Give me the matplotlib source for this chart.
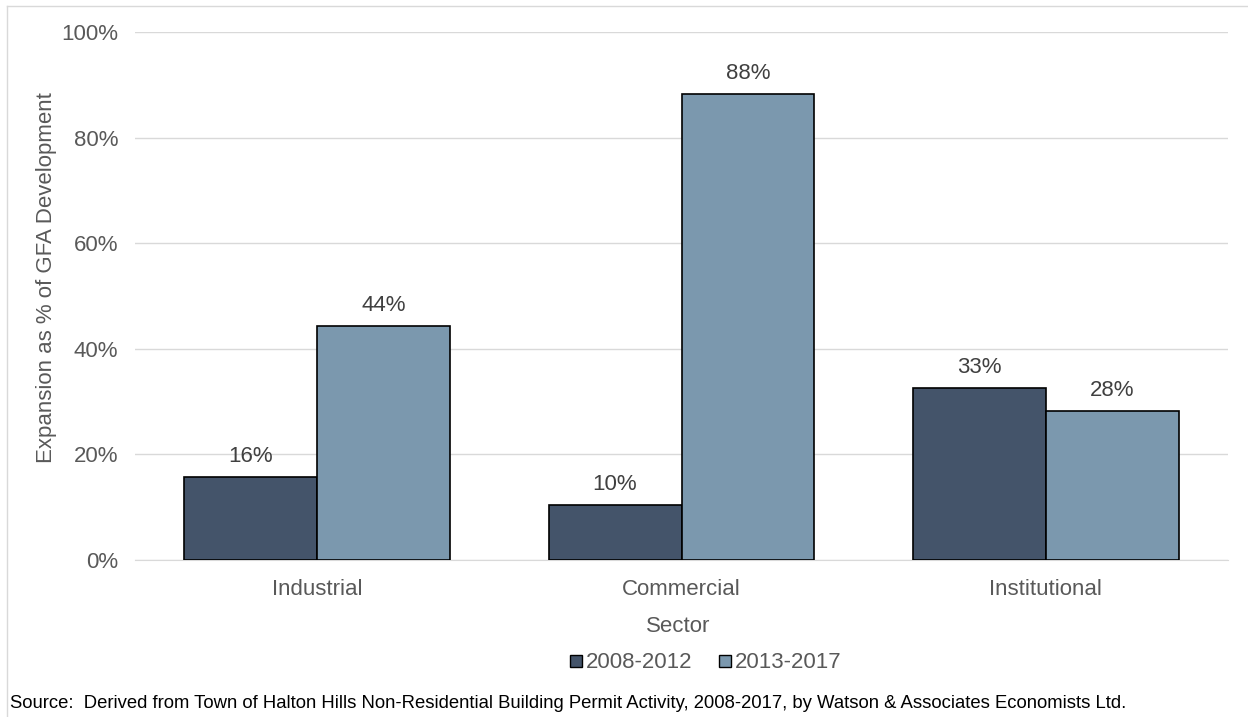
import matplotlib.pyplot as plt
import numpy as np
from matplotlib.lines import Line2D

# Data
sectors = ['Industrial', 'Commercial', 'Institutional']
periods = ['2008-2012', '2013-2017']
vals_0812 = [15.8, 10.4, 32.6]
vals_1317 = [44.4, 88.3, 28.2]
lbl_0812 = ['16%', '10%', '33%']
lbl_1317 = ['44%', '88%', '28%']
yticks = [0, 20, 40, 60, 80, 100]

plt.rcParams['font.family'] = ['Liberation Sans', 'DejaVu Sans']
txt = '#595959'
c_dark = '#44546A'
c_light = '#7B98AE'
fs = 16
W, H = 1248, 717

fig = plt.figure(figsize=(12.48, 7.17), dpi=100)
ax = fig.add_axes([135/W, 1 - 560/H, (1228-135)/W, (560-32)/H])

x = np.arange(len(sectors))
w = 0.365
b1 = ax.bar(x - w/2, vals_0812, w, color=c_dark, edgecolor='black', lw=1.2, zorder=3)
b2 = ax.bar(x + w/2, vals_1317, w, color=c_light, edgecolor='black', lw=1.2, zorder=3)

for bars, labs in [(b1, lbl_0812), (b2, lbl_1317)]:
    for r, s in zip(bars, labs):
        ax.annotate(s, (r.get_x() + r.get_width()/2, r.get_height()),
                    xytext=(0, 7), textcoords='offset points',
                    ha='center', va='bottom', fontsize=fs, color='#404040')

ax.set_xlim(-0.5, 2.5)
ax.set_ylim(0, 100)
ax.set_yticks(yticks)
ax.set_yticklabels([f'{t}%' for t in yticks])
ax.set_xticks(x)
ax.set_xticklabels(sectors)
ax.tick_params(axis='both', length=0, labelsize=fs, colors=txt)
ax.tick_params(axis='y', pad=12)
ax.tick_params(axis='x', pad=14)
ax.grid(axis='y', color='#D9D9D9', lw=1, zorder=0)
for s in ['top', 'right', 'left']:
    ax.spines[s].set_visible(False)
ax.spines['bottom'].set_color('#D9D9D9')

# axis titles placed where the reference has them
fig.text(678/W, 1 - 627/H, 'Sector', fontsize=fs, color=txt, ha='center', va='center')
fig.text(47/W, 1 - 278/H, 'Expansion as % of GFA Development', fontsize=fs, color=txt,
         rotation=90, ha='center', va='center')

handles = [Line2D([], [], marker='s', ls='', markersize=8.5, markerfacecolor=c,
                  markeredgecolor='black') for c in (c_dark, c_light)]
leg = fig.legend(handles, periods, loc='center', bbox_to_anchor=(704/W, 1 - 663/H),
                 ncol=2, frameon=False, fontsize=fs, handletextpad=0.0,
                 columnspacing=1.0, handlelength=0.9)
for t in leg.get_texts():
    t.set_color(txt)

fig.text(10/W, 1 - 703/H, 'Source:  Derived from Town of Halton Hills Non-Residential Building '
         'Permit Activity, 2008-2017, by Watson & Associates Economists Ltd.',
         fontsize=13.3, color='black', va='center', ha='left')

# outer frame lines
fig.add_artist(Line2D([7/W, 7/W], [0, 1 - 6/H], transform=fig.transFigure,
                      color='#D9D9D9', lw=1))
fig.add_artist(Line2D([7/W, 1], [1 - 6/H, 1 - 6/H], transform=fig.transFigure,
                      color='#D9D9D9', lw=1))

fig.savefig('out.png', dpi=100)
